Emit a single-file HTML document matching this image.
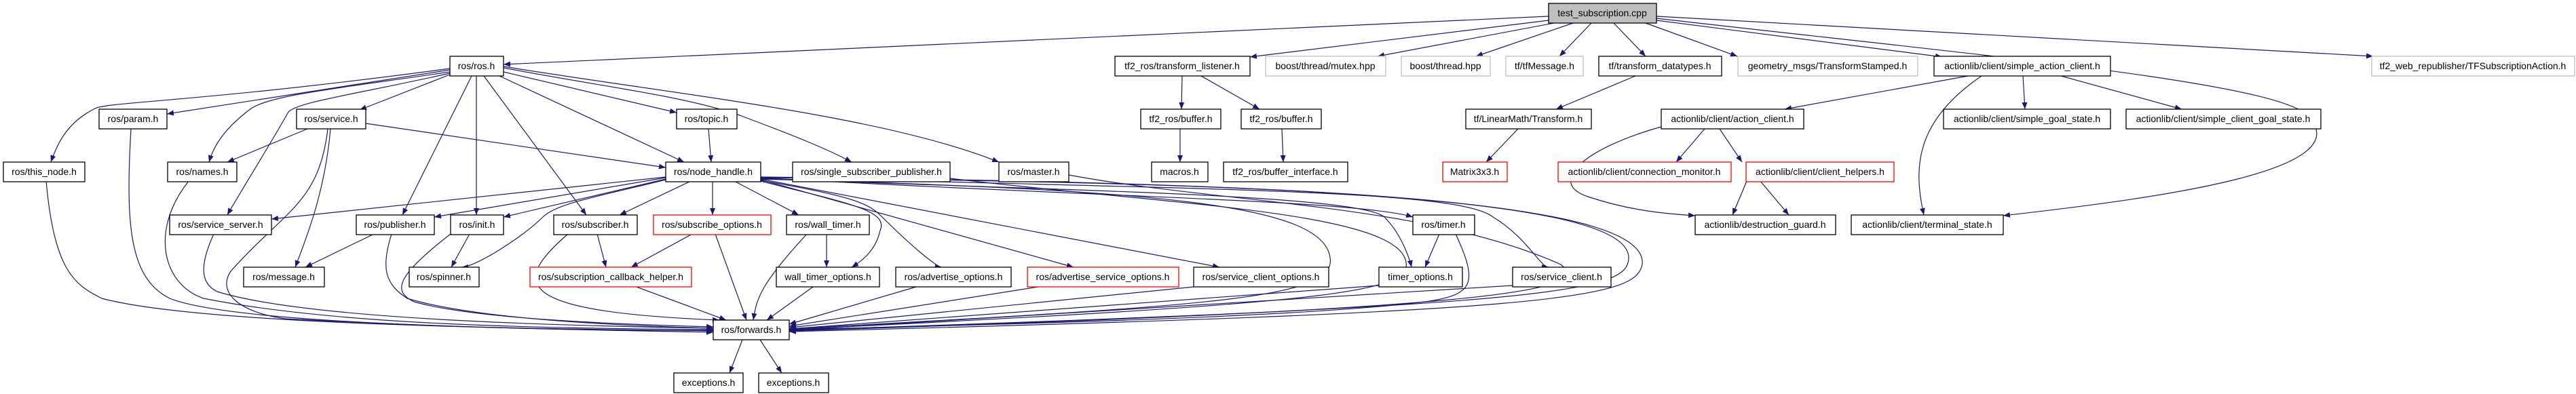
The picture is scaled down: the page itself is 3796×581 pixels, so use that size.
<!DOCTYPE html>
<html><head><meta charset="utf-8"><style>
html,body{margin:0;padding:0;background:#fff;width:3796px;height:581px;overflow:hidden}
svg text{font-family:"Liberation Sans","DejaVu Sans",sans-serif;font-size:14px;text-anchor:middle}
.n{fill:#fff;stroke:#000;stroke-width:1.3}
.g{fill:#fff;stroke:#bfbfbf;stroke-width:1.3}
.r{fill:#fff;stroke:#ff0000;stroke-width:1.3}
.e{fill:none;stroke:#191970;stroke-width:1.2}
</style></head><body>
<svg width="3796" height="581" xmlns="http://www.w3.org/2000/svg">
<defs><marker id="a" viewBox="0 0 10 8" refX="10" refY="4" markerWidth="10" markerHeight="8" markerUnits="userSpaceOnUse" orient="auto"><path d="M0,0L10,4L0,8z" fill="#191970"/></marker></defs>
<g class="edges">
<!-- test_subscription -->
<path class="e" marker-end="url(#a)" d="M2282,24 L742,95"/>
<path class="e" marker-end="url(#a)" d="M2282,30 L1842,84"/>
<path class="e" marker-end="url(#a)" d="M2290,34 L2030,83"/>
<path class="e" marker-end="url(#a)" d="M2318,34 L2175,83"/>
<path class="e" marker-end="url(#a)" d="M2345,34 L2298,83"/>
<path class="e" marker-end="url(#a)" d="M2378,34 L2425,83"/>
<path class="e" marker-end="url(#a)" d="M2425,34 L2560,83"/>
<path class="e" marker-end="url(#a)" d="M2441,30 L2862,84"/>
<path class="e" marker-end="url(#a)" d="M2441,27 C2900,80 3350,120 3400,170 C3480,250 3200,290 2952,318"/>
<path class="e" marker-end="url(#a)" d="M2441,24 L3497,83"/>
<!-- ros/ros.h -->
<path class="e" marker-end="url(#a)" d="M663,101 C300,150 160,150 140,160 C100,180 85,210 75,239"/>
<path class="e" marker-end="url(#a)" d="M663,103 L246,168"/>
<path class="e" marker-end="url(#a)" d="M663,106 C500,130 400,140 370,160 C330,190 315,215 308,239"/>
<path class="e" marker-end="url(#a)" d="M663,110 L530,162"/>
<path class="e" marker-end="url(#a)" d="M663,108 C520,140 440,150 425,165 C400,210 350,290 335,317"/>
<path class="e" marker-end="url(#a)" d="M695,112 L593,317"/>
<path class="e" marker-end="url(#a)" d="M702,112 L702,317"/>
<path class="e" marker-end="url(#a)" d="M713,112 L864,317"/>
<path class="e" marker-end="url(#a)" d="M742,106 L997,166"/>
<path class="e" marker-end="url(#a)" d="M736,112 L1008,239"/>
<path class="e" marker-end="url(#a)" d="M742,100 C900,130 1000,140 1090,170 C1170,200 1220,220 1255,239"/>
<path class="e" marker-end="url(#a)" d="M742,98 C1000,140 1300,170 1472,239"/>
<!-- row2 -->
<path class="e" marker-end="url(#a)" d="M193,190 C185,330 190,410 250,440 C350,480 800,485 1051,490"/>
<path class="e" marker-end="url(#a)" d="M453,190 L335,239"/>
<path class="e" marker-end="url(#a)" d="M539,182 L981,247"/>
<path class="e" marker-end="url(#a)" d="M487,190 C480,270 460,330 435,394"/>
<path class="e" marker-end="url(#a)" d="M483,190 C470,300 420,310 340,400 C320,430 350,460 420,470 C700,485 900,488 1051,487"/>
<path class="e" marker-end="url(#a)" d="M1044,190 L1048,239"/>
<!-- row 2.5 -->
<path class="e" marker-end="url(#a)" d="M68,267 C80,400 110,420 150,440 C300,480 800,485 1051,488"/>
<path class="e" marker-end="url(#a)" d="M278,267 C220,340 240,420 300,440 C500,480 800,484 1051,486"/>
<path class="e" marker-end="url(#a)" d="M981,261 L400,323"/>
<path class="e" marker-end="url(#a)" d="M981,262 L640,320"/>
<path class="e" marker-end="url(#a)" d="M981,264 L742,320"/>
<path class="e" marker-end="url(#a)" d="M981,265 C880,290 820,300 800,320 C770,350 700,394 680,394"/>
<path class="e" marker-end="url(#a)" d="M1018,267 L913,317"/>
<path class="e" marker-end="url(#a)" d="M1050,267 L1050,317"/>
<path class="e" marker-end="url(#a)" d="M1082,267 L1177,317"/>
<path class="e" marker-end="url(#a)" d="M1121,267 C1250,300 1310,310 1297,340 C1290,370 1270,385 1255,394"/>
<path class="e" marker-end="url(#a)" d="M1121,266 C1260,290 1280,300 1300,320 C1340,360 1380,394 1388,394"/>
<path class="e" marker-end="url(#a)" d="M1121,265 L1582,394"/>
<path class="e" marker-end="url(#a)" d="M1121,264 L1797,394"/>
<path class="e" marker-end="url(#a)" d="M1121,262 C1600,290 2000,295 2082,320"/>
<path class="e" marker-end="url(#a)" d="M1121,263 C1500,280 2000,285 2040,320 C2070,350 2080,394 2080,394"/>
<path class="e" marker-end="url(#a)" d="M1121,261 C1800,280 2150,280 2200,320 C2250,350 2270,394 2282,394"/>
<path class="e" marker-end="url(#a)" d="M1121,264 C1700,280 1950,300 1960,380 C1970,440 1800,450 1163,485"/>
<path class="e" marker-end="url(#a)" d="M1121,262 C2000,270 2400,300 2400,380 C2400,430 2300,450 1163,487"/>
<path class="e" marker-end="url(#a)" d="M1121,261 C2000,270 2430,300 2420,390 C2410,440 2300,460 1163,489"/>
<path class="e" marker-end="url(#a)" d="M1400,263 C1700,300 2040,310 2070,380 C2090,430 2000,445 1163,486"/>
<path class="e" marker-end="url(#a)" d="M1575,258 C1800,300 2100,300 2300,390 C2350,430 2200,455 1163,488"/>
<!-- row3 -->
<path class="e" marker-end="url(#a)" d="M315,345 C290,400 300,420 320,430 C450,470 800,480 1051,484"/>
<path class="e" marker-end="url(#a)" d="M551,345 L450,394"/>
<path class="e" marker-end="url(#a)" d="M577,345 C560,400 570,420 600,440 C700,470 900,480 1051,484"/>
<path class="e" marker-end="url(#a)" d="M692,345 L665,394"/>
<path class="e" marker-end="url(#a)" d="M664,345 C580,410 580,430 610,445 C700,470 900,478 1051,482"/>
<path class="e" marker-end="url(#a)" d="M880,345 L893,394"/>
<path class="e" marker-end="url(#a)" d="M837,345 C750,420 760,460 1060,472"/>
<path class="e" marker-end="url(#a)" d="M1020,345 L930,394"/>
<path class="e" marker-end="url(#a)" d="M1054,345 L1100,472"/>
<path class="e" marker-end="url(#a)" d="M1218,345 L1218,394"/>
<path class="e" marker-end="url(#a)" d="M1189,345 C1120,420 1115,440 1110,472"/>
<path class="e" marker-end="url(#a)" d="M2121,345 L2100,394"/>
<path class="e" marker-end="url(#a)" d="M2145,345 C2180,420 2170,435 2100,445 C1900,470 1400,480 1163,486"/>
<!-- row4 -->
<path class="e" marker-end="url(#a)" d="M938,423 L1070,472"/>
<path class="e" marker-end="url(#a)" d="M1198,423 L1130,472"/>
<path class="e" marker-end="url(#a)" d="M1350,423 L1163,478"/>
<path class="e" marker-end="url(#a)" d="M1530,423 L1163,481"/>
<path class="e" marker-end="url(#a)" d="M1759,423 L1163,483"/>
<path class="e" marker-end="url(#a)" d="M2032,421 L1163,485"/>
<path class="e" marker-end="url(#a)" d="M2229,421 L1163,487"/>
<!-- forwards -->
<path class="e" marker-end="url(#a)" d="M1094,501 L1075,550"/>
<path class="e" marker-end="url(#a)" d="M1120,501 L1152,550"/>
<!-- tf2 -->
<path class="e" marker-end="url(#a)" d="M1742,112 L1741,161"/>
<path class="e" marker-end="url(#a)" d="M1770,112 L1856,161"/>
<path class="e" marker-end="url(#a)" d="M1739,190 L1739,239"/>
<path class="e" marker-end="url(#a)" d="M1889,190 L1891,239"/>
<path class="e" marker-end="url(#a)" d="M2410,112 L2293,161"/>
<path class="e" marker-end="url(#a)" d="M2237,190 L2190,239"/>
<!-- actionlib -->
<path class="e" marker-end="url(#a)" d="M2900,112 L2630,161"/>
<path class="e" marker-end="url(#a)" d="M2981,112 L2984,161"/>
<path class="e" marker-end="url(#a)" d="M3037,112 L3215,161"/>
<path class="e" marker-end="url(#a)" d="M2920,112 C2820,180 2820,250 2835,317"/>
<path class="e" marker-end="url(#a)" d="M2448,187 C2330,220 2280,270 2340,290 C2400,310 2450,315 2498,318"/>
<path class="e" marker-end="url(#a)" d="M2512,190 L2470,239"/>
<path class="e" marker-end="url(#a)" d="M2534,190 L2567,239"/>
<path class="e" marker-end="url(#a)" d="M2574,267 L2553,317"/>
<path class="e" marker-end="url(#a)" d="M2594,267 L2636,317"/>
</g>
<g>
<rect x="2282" y="5" width="159" height="29" fill="#bfbfbf" stroke="#000" stroke-width="1.3"/><text x="2361" y="24">test_subscription.cpp</text>
<rect class="n" x="663" y="83" width="79" height="29"/><text x="702" y="102">ros/ros.h</text>
<rect class="n" x="1643" y="83" width="199" height="29"/><text x="1742" y="102">tf2_ros/transform_listener.h</text>
<rect class="g" x="1865" y="83" width="177" height="29"/><text x="1953" y="102">boost/thread/mutex.hpp</text>
<rect class="g" x="2065" y="83" width="131" height="29"/><text x="2130" y="102">boost/thread.hpp</text>
<rect class="g" x="2219" y="83" width="114" height="29"/><text x="2276" y="102">tf/tfMessage.h</text>
<rect class="n" x="2356" y="83" width="181" height="29"/><text x="2446" y="102">tf/transform_datatypes.h</text>
<rect class="g" x="2561" y="83" width="265" height="29"/><text x="2693" y="102">geometry_msgs/TransformStamped.h</text>
<rect class="n" x="2850" y="83" width="260" height="29"/><text x="2980" y="102">actionlib/client/simple_action_client.h</text>
<rect class="g" x="3495" y="83" width="299" height="29"/><text x="3644" y="102">tf2_web_republisher/TFSubscriptionAction.h</text>

<rect class="n" x="146" y="161" width="100" height="29"/><text x="196" y="180">ros/param.h</text>
<rect class="n" x="437" y="161" width="102" height="29"/><text x="488" y="180">ros/service.h</text>
<rect class="n" x="997" y="161" width="89" height="29"/><text x="1041" y="180">ros/topic.h</text>
<rect class="n" x="1681" y="161" width="118" height="29"/><text x="1740" y="180">tf2_ros/buffer.h</text>
<rect class="n" x="1829" y="161" width="118" height="29"/><text x="1888" y="180">tf2_ros/buffer.h</text>
<rect class="n" x="2160" y="161" width="185" height="29"/><text x="2252" y="180">tf/LinearMath/Transform.h</text>
<rect class="n" x="2448" y="161" width="210" height="29"/><text x="2553" y="180">actionlib/client/action_client.h</text>
<rect class="n" x="2864" y="161" width="246" height="29"/><text x="2987" y="180">actionlib/client/simple_goal_state.h</text>
<rect class="n" x="3133" y="161" width="287" height="29"/><text x="3276" y="180">actionlib/client/simple_client_goal_state.h</text>

<rect class="n" x="5" y="239" width="120" height="29"/><text x="65" y="258">ros/this_node.h</text>
<rect class="n" x="247" y="239" width="102" height="29"/><text x="298" y="258">ros/names.h</text>
<rect class="n" x="981" y="239" width="140" height="29"/><text x="1051" y="258">ros/node_handle.h</text>
<rect class="n" x="1168" y="239" width="232" height="29"/><text x="1284" y="258">ros/single_subscriber_publisher.h</text>
<rect class="n" x="1472" y="239" width="103" height="29"/><text x="1523" y="258">ros/master.h</text>
<rect class="n" x="1697" y="239" width="83" height="29"/><text x="1738" y="258">macros.h</text>
<rect class="n" x="1803" y="239" width="183" height="29"/><text x="1894" y="258">tf2_ros/buffer_interface.h</text>
<rect class="r" x="2126" y="239" width="95" height="29"/><text x="2173" y="258">Matrix3x3.h</text>
<rect class="r" x="2296" y="239" width="255" height="29"/><text x="2423" y="258">actionlib/client/connection_monitor.h</text>
<rect class="r" x="2573" y="239" width="218" height="29"/><text x="2682" y="258">actionlib/client/client_helpers.h</text>

<rect class="n" x="250" y="317" width="150" height="29"/><text x="325" y="336">ros/service_server.h</text>
<rect class="n" x="525" y="317" width="115" height="29"/><text x="582" y="336">ros/publisher.h</text>
<rect class="n" x="664" y="317" width="78" height="29"/><text x="703" y="336">ros/init.h</text>
<rect class="n" x="816" y="317" width="123" height="29"/><text x="877" y="336">ros/subscriber.h</text>
<rect class="r" x="963" y="317" width="173" height="29"/><text x="1049" y="336">ros/subscribe_options.h</text>
<rect class="n" x="1159" y="317" width="122" height="29"/><text x="1220" y="336">ros/wall_timer.h</text>
<rect class="n" x="2082" y="317" width="91" height="29"/><text x="2127" y="336">ros/timer.h</text>
<rect class="n" x="2498" y="317" width="207" height="29"/><text x="2601" y="336">actionlib/destruction_guard.h</text>
<rect class="n" x="2728" y="317" width="224" height="29"/><text x="2840" y="336">actionlib/client/terminal_state.h</text>

<rect class="n" x="359" y="394" width="119" height="29"/><text x="418" y="413">ros/message.h</text>
<rect class="n" x="603" y="394" width="103" height="29"/><text x="654" y="413">ros/spinner.h</text>
<rect class="r" x="781" y="394" width="238" height="29"/><text x="900" y="413">ros/subscription_callback_helper.h</text>
<rect class="n" x="1144" y="394" width="152" height="29"/><text x="1220" y="413">wall_timer_options.h</text>
<rect class="n" x="1320" y="394" width="170" height="29"/><text x="1405" y="413">ros/advertise_options.h</text>
<rect class="r" x="1514" y="394" width="223" height="29"/><text x="1625" y="413">ros/advertise_service_options.h</text>
<rect class="n" x="1759" y="394" width="199" height="29"/><text x="1858" y="413">ros/service_client_options.h</text>
<rect class="n" x="2032" y="394" width="123" height="29"/><text x="2093" y="413">timer_options.h</text>
<rect class="n" x="2229" y="394" width="145" height="29"/><text x="2301" y="413">ros/service_client.h</text>

<rect class="n" x="1051" y="472" width="112" height="29"/><text x="1107" y="491">ros/forwards.h</text>
<rect class="n" x="993" y="550" width="102" height="29"/><text x="1044" y="569">exceptions.h</text>
<rect class="n" x="1118" y="550" width="103" height="29"/><text x="1169" y="569">exceptions.h</text>
</g>
</svg>
</body></html>
